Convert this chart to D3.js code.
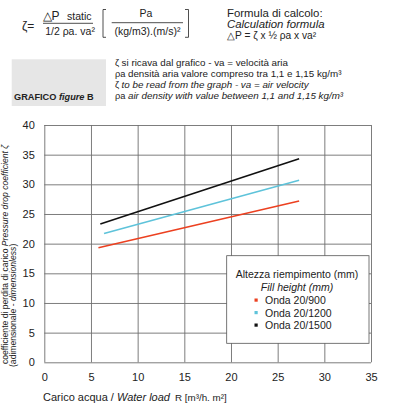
<!DOCTYPE html>
<html>
<head>
<meta charset="utf-8">
<script src="https://cdn.jsdelivr.net/npm/d3@7"></script>
<style>
  body { margin: 0; background: #fff; }
  svg { display: block; font-family: "Liberation Sans", Arial, sans-serif; }
</style>
</head>
<body>
<div id="container"></div>
<script>
// chart data
const xTicks = [0, 5, 10, 15, 20, 25, 30, 35]
const yTicks = [0, 5, 10, 15, 20, 25, 30, 35, 40]
const seriesNames = ["Onda 20/900", "Onda 20/1200", "Onda 20/1500"]
const seriesColors = ["#ec4020", "#5ec3da", "#111111"]
const waterLoad900 = [5.8, 27.3]
const zeta900 = [19.3, 27.2]
const waterLoad1200 = [6.4, 27.3]
const zeta1200 = [21.7, 30.7]
const waterLoad1500 = [6.0, 27.3]
const zeta1500 = [23.3, 34.3]

const series = [
    { name: seriesNames[0], color: seriesColors[0], pts: waterLoad900.map((x, i) => ({ x: x, y: zeta900[i] })) },
    { name: seriesNames[1], color: seriesColors[1], pts: waterLoad1200.map((x, i) => ({ x: x, y: zeta1200[i] })) },
    { name: seriesNames[2], color: seriesColors[2], pts: waterLoad1500.map((x, i) => ({ x: x, y: zeta1500[i] })) },
]

let w = 393, h = 404
let svg = d3.select("#container").append("svg")
    .attr("width", w)
    .attr("height", h)

let ink = "#222"

// ---- header formula (left)
let hd = svg.append("g").attr("fill", ink)
hd.append("text").attr("x", 22).attr("y", 30).attr("font-size", 12).text("ζ=")
hd.append("text").attr("x", 42.5).attr("y", 19.5).attr("font-size", 12)
    .text("△P")
hd.append("text").attr("x", 67).attr("y", 19.5).attr("font-size", 10.5).text("static")
hd.append("line").attr("x1", 43).attr("x2", 93).attr("y1", 23.3).attr("y2", 23.3)
    .attr("stroke", ink).attr("stroke-width", 0.8)
hd.append("text").attr("x", 70).attr("y", 35).attr("font-size", 10.5)
    .attr("text-anchor", "middle").text("1/2 ρa. va²")
hd.append("path").attr("d", "M106,9.5H103V37.3H106").attr("fill", "none").attr("stroke", ink).attr("stroke-width", 0.8)
hd.append("path").attr("d", "M185,9.5H188.5V37.3H185").attr("fill", "none").attr("stroke", ink).attr("stroke-width", 0.8)
hd.append("text").attr("x", 146).attr("y", 16.7).attr("font-size", 10.5)
    .attr("text-anchor", "middle").text("Pa")
hd.append("line").attr("x1", 111.7).attr("x2", 183).attr("y1", 22.7).attr("y2", 22.7)
    .attr("stroke", ink).attr("stroke-width", 0.8)
hd.append("text").attr("x", 147.5).attr("y", 35).attr("font-size", 10.5)
    .attr("text-anchor", "middle").text("(kg/m3).(m/s)²")

// ---- header formula (right)
hd.append("text").attr("x", 227).attr("y", 17).attr("font-size", 11.4).text("Formula di calcolo:")
hd.append("text").attr("x", 227).attr("y", 28).attr("font-size", 11.4)
    .attr("font-style", "italic").text("Calculation formula")
hd.append("text").attr("x", 227).attr("y", 39).attr("font-size", 10.2).text("△P = ζ x ½ ρa x va²")

// ---- grey label box
svg.append("rect").attr("x", 11.7).attr("y", 59.3).attr("width", 94.3).attr("height", 46.7)
    .attr("fill", "#e6e6e6")
let gl = svg.append("text").attr("x", 14).attr("y", 100).attr("font-size", 9.2)
    .attr("font-weight", "bold").attr("fill", ink)
gl.append("tspan").text("GRAFICO ")
gl.append("tspan").attr("font-style", "italic").text("figure")
gl.append("tspan").text(" B")

// ---- notes
let notes = [
    ["ζ", "si ricava dal grafico - va = velocità aria", false, 66],
    ["ρa", "densità aria valore compreso tra 1,1 e 1,15 kg/m³", false, 77.3],
    ["ζ", "to be read from the graph - va = air velocity", true, 87.8],
    ["ρa", "air density with value between 1,1 and 1,15 kg/m³", true, 99],
]
notes.forEach(n => {
    let t = svg.append("text").attr("x", 115).attr("y", n[3]).attr("font-size", 9.8).attr("fill", ink)
    t.append("tspan").attr("font-size", 9.3).text(n[0])
    t.append("tspan").attr("dx", 2.5)
        .attr("font-style", n[2] ? "italic" : "normal").text(n[1])
})

// ---- plot
let x = d3.scaleLinear().domain([0, 35]).range([44.3, 371])
let y = d3.scaleLinear().domain([0, 40]).range([362.3, 125])

let xAxis = svg.append("g")
    .attr("transform", `translate(0, ${y(0)})`)
    .call(d3.axisBottom(x).tickValues(xTicks).tickSize(-(y(0) - y(40))).tickPadding(11))
let yAxis = svg.append("g")
    .attr("transform", `translate(${x(0)}, 0)`)
    .call(d3.axisLeft(y).tickValues(yTicks).tickSize(-(x(35) - x(0))).tickPadding(9.5))

;[xAxis, yAxis].forEach(a => {
    a.select(".domain").remove()
    a.selectAll(".tick line").attr("stroke", "#6e6e6e").attr("stroke-width", 0.9)
    a.selectAll(".tick text").attr("font-size", 11).attr("fill", ink)
        .attr("font-family", "Liberation Sans, Arial, sans-serif")
})

let line = d3.line().x(d => x(d.x)).y(d => y(d.y))
series.forEach(s => {
    svg.append("path")
        .datum(s.pts)
        .attr("d", line)
        .attr("fill", "none")
        .attr("stroke", s.color)
        .attr("stroke-width", 1.6)
})

// ---- legend
let lg = svg.append("g")
lg.append("rect").attr("x", 226.7).attr("y", 255.7).attr("width", 142.3).attr("height", 87.6)
    .attr("fill", "#fff").attr("stroke", "#555").attr("stroke-width", 0.8)
lg.append("text").attr("x", 297).attr("y", 277.5).attr("font-size", 10.5).attr("fill", ink)
    .attr("text-anchor", "middle").text("Altezza riempimento (mm)")
lg.append("text").attr("x", 297).attr("y", 290.5).attr("font-size", 10.5).attr("fill", ink)
    .attr("text-anchor", "middle").attr("font-style", "italic").text("Fill height (mm)")
series.forEach((s, i) => {
    let by = 304 + i * 12.5
    lg.append("rect").attr("x", 254.5).attr("y", by - 5.5).attr("width", 3.2).attr("height", 3.2)
        .attr("fill", s.color)
    lg.append("text").attr("x", 265).attr("y", by).attr("font-size", 10.5).attr("fill", ink)
        .text(s.name)
})

// ---- axis titles
let xt = svg.append("text").attr("x", 43).attr("y", 401).attr("font-size", 11).attr("fill", ink)
xt.append("tspan").text("Carico acqua / ")
xt.append("tspan").attr("font-style", "italic").text("Water load")
xt.append("tspan").attr("dx", 5).attr("font-size", 9.8).text("R [m³/h. m²]")

let yt = svg.append("g").attr("transform", "translate(7.5, 364) rotate(-90)")
let y1 = yt.append("text").attr("font-size", 8.6).attr("fill", ink)
y1.append("tspan").text("coefficiente di perdita di carico ")
y1.append("tspan").attr("font-style", "italic").text("Pressure drop coefficient ζ")
let y2 = yt.append("text").attr("y", 8).attr("font-size", 8.6).attr("fill", ink)
    .attr("x", -3)
y2.append("tspan").text("(adimensionale - ")
y2.append("tspan").attr("font-style", "italic").text("dimensionless")
y2.append("tspan").text(")")
</script>
</body>
</html>
